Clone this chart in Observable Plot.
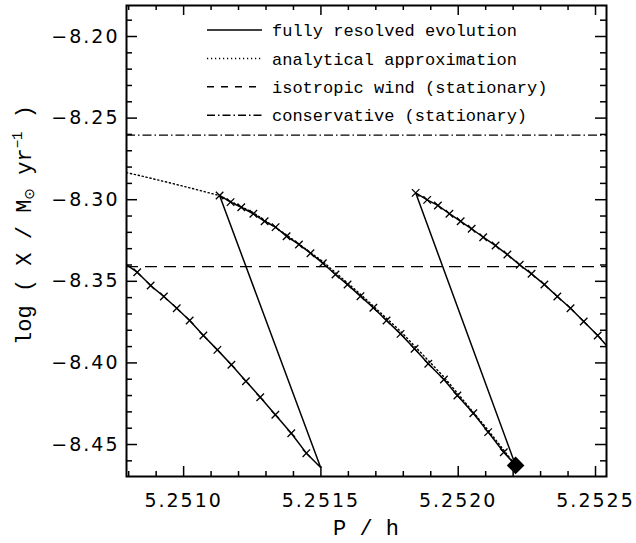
<!DOCTYPE html>
<html><head><meta charset="utf-8">
<script src="https://cdn.jsdelivr.net/npm/d3@7"></script>
<script src="https://cdn.jsdelivr.net/npm/@observablehq/plot@0.6"></script>
<style>
body{margin:0;background:#fff}
g[aria-label="x-axis tick label"] text, g[aria-label="y-axis tick label"] text{letter-spacing:2px}
</style>
</head><body><div id="chart"></div>
<script>
// fully resolved evolution, three consecutive segments (P / h, log X)
const seg1Period = [5.250795, 5.250831, 5.250880, 5.250928, 5.250975, 5.251022, 5.251072, 5.251123, 5.251174, 5.251227, 5.251279, 5.251334, 5.251392, 5.251447, 5.251499];
const seg1LogX   = [-8.3403, -8.3444, -8.3526, -8.3593, -8.3665, -8.3740, -8.3832, -8.3920, -8.4011, -8.4112, -8.4210, -8.4318, -8.4431, -8.4553, -8.4641];
const seg2Period = [5.251131, 5.251171, 5.251210, 5.251254, 5.251295, 5.251335, 5.251375, 5.251420, 5.251462, 5.251507, 5.251553, 5.251597, 5.251644, 5.251691, 5.251739, 5.251790, 5.251841, 5.251891, 5.251948, 5.251997, 5.252055, 5.252109, 5.252166, 5.252209];
const seg2LogX   = [-8.2974, -8.3015, -8.3046, -8.3086, -8.3132, -8.3168, -8.3224, -8.3274, -8.3328, -8.3389, -8.3458, -8.3520, -8.3591, -8.3662, -8.3740, -8.3822, -8.3913, -8.4005, -8.4102, -8.4200, -8.4308, -8.4424, -8.4547, -8.4628];
const seg3Period = [5.251845, 5.251887, 5.251926, 5.251968, 5.252009, 5.252049, 5.252091, 5.252136, 5.252179, 5.252224, 5.252267, 5.252314, 5.252361, 5.252409, 5.252457, 5.252508, 5.252540];
const seg3LogX   = [-8.2958, -8.3001, -8.3035, -8.3086, -8.3132, -8.3178, -8.3230, -8.3281, -8.3336, -8.3399, -8.3454, -8.3520, -8.3593, -8.3665, -8.3746, -8.3832, -8.3893];
// analytical approximation
const anaPeriod = [5.250792, 5.250855, 5.250941, 5.251036, 5.251129, 5.251254, 5.251375, 5.251507, 5.251644, 5.251790, 5.251948, 5.252109, 5.252209];
const anaLogX   = [-8.2834, -8.2858, -8.2893, -8.2933, -8.2974, -8.3080, -8.3216, -8.3379, -8.3579, -8.3806, -8.4086, -8.4412, -8.4628];
// end point (diamond)
const endPeriod = [5.252209];
const endLogX = [-8.4628];
// stationary solutions
const isotropicLogX = [-8.341];
const conservativeLogX = [-8.2604];
// ticks
const xMajor = [5.2510, 5.2515, 5.2520, 5.2525];
const xMinor = [5.2508, 5.2509, 5.2511, 5.2512, 5.2513, 5.2514, 5.2516, 5.2517, 5.2518, 5.2519, 5.2521, 5.2522, 5.2523, 5.2524];
const yMajor = [-8.45, -8.40, -8.35, -8.30, -8.25, -8.20];
const yMinor = [-8.46, -8.44, -8.43, -8.42, -8.41, -8.39, -8.38, -8.37, -8.36, -8.34, -8.33, -8.32, -8.31, -8.29, -8.28, -8.27, -8.26, -8.24, -8.23, -8.22, -8.21, -8.19];
const legendLabels = ["fully resolved evolution", "analytical approximation", "isotropic wind (stationary)", "conservative (stationary)"];
const legendDashes = [null, "1.2,2.8", "7,7", "8,3,1.5,3"];

const toPts = (p, l) => p.map((v, i) => ({P: v, L: l[i]}));
const s1 = toPts(seg1Period, seg1LogX), s2 = toPts(seg2Period, seg2LogX), s3 = toPts(seg3Period, seg3LogX);
const evo = [...s1, ...s2, ...s3];
const marked = [...s1.slice(1, -1), ...s2.slice(0, -1), ...s3.slice(0, -1)];
const ana = toPts(anaPeriod, anaLogX);
const endPt = toPts(endPeriod, endLogX);

const W = 636, H = 543, mL = 126, mR = 30, mT = 5, mB = 67;
const plotW = W - mL - mR, plotH = H - mT - mB;
// inward tick marks: frame-spanning rules inset so that only a short piece remains
const ticksX = (vals, side, len) => Plot.ruleX(vals, side === "bottom"
  ? {x: d => d, insetTop: plotH - len, stroke: "black", strokeWidth: 1.5}
  : {x: d => d, insetBottom: plotH - len, stroke: "black", strokeWidth: 1.5});
const ticksY = (vals, side, len) => Plot.ruleY(vals, side === "left"
  ? {y: d => d, insetRight: plotW - len, stroke: "black", strokeWidth: 1.5}
  : {y: d => d, insetLeft: plotW - len, stroke: "black", strokeWidth: 1.5});

const chart = Plot.plot({
  width: W, height: H,
  marginLeft: mL, marginRight: mR, marginTop: mT, marginBottom: mB,
  x: {domain: [5.250792, 5.252540]},
  y: {domain: [-8.4696, -8.1810]},
  style: {fontFamily: "DejaVu Sans", fontSize: "19px", color: "black", background: "white"},
  marks: [
    Plot.ruleY(conservativeLogX, {stroke: "black", strokeWidth: 1.3, strokeDasharray: "9,3,1.5,3"}),
    Plot.ruleY(isotropicLogX, {stroke: "black", strokeWidth: 1.3, strokeDasharray: "12,7"}),
    Plot.line(ana, {x: "P", y: "L", stroke: "black", strokeWidth: 1.4, strokeDasharray: "1.2,2.8", clip: true}),
    Plot.line(evo, {x: "P", y: "L", stroke: "black", strokeWidth: 1.5, clip: true}),
    Plot.dot(marked, {x: "P", y: "L", symbol: "times", r: 3.5, stroke: "black", strokeWidth: 1.3}),
    Plot.dot(endPt, {x: "P", y: "L", symbol: "diamond2", r: 7, fill: "black", stroke: "black"}),
    ticksX(xMinor, "bottom", 5),
    ticksX(xMajor, "bottom", 10),
    ticksX(xMinor, "top", 5),
    ticksX(xMajor, "top", 10),
    ticksY(yMinor, "left", 6),
    ticksY(yMajor, "left", 11),
    ticksY(yMinor, "right", 6),
    ticksY(yMajor, "right", 11),
    Plot.frame({stroke: "black", strokeWidth: 2}),
    Plot.axisX(xMajor, {anchor: "bottom", tickSize: 0, tickPadding: 17, tickFormat: d3.format(".4f"), label: null}),
    Plot.axisY(yMajor, {anchor: "left", tickSize: 0, tickPadding: 7, tickFormat: d3.format(".2f"), label: null})
  ]
});
document.getElementById("chart").appendChild(chart);

const svg = d3.select(chart);
const leg = svg.append("g").attr("font-family", "Liberation Mono, monospace").attr("font-size", 17)
  .attr("fill", "black").attr("text-anchor", "start");
legendLabels.forEach((lab, i) => {
  const y = 30 + i * 28.4;
  const ln = leg.append("line").attr("x1", 207).attr("x2", 262).attr("y1", y).attr("y2", y)
    .attr("stroke", "black").attr("stroke-width", 1.5);
  if (legendDashes[i]) ln.attr("stroke-dasharray", legendDashes[i]);
  leg.append("text").attr("x", 272).attr("y", y).attr("dy", "0.36em").attr("text-anchor", "start").text(lab);
});

svg.append("text").attr("x", 366).attr("y", 535).attr("text-anchor", "middle")
  .attr("font-family", "Liberation Mono, monospace").attr("font-size", 22).attr("fill", "black").text("P / h");

const yt = svg.append("text").attr("transform", "translate(31,225) rotate(-90)").attr("text-anchor", "middle")
  .attr("font-family", "Liberation Mono, monospace").attr("font-size", 22).attr("fill", "black");
yt.append("tspan").text("log ( X / M");
yt.append("tspan").attr("font-size", 14).attr("dy", 3).attr("font-family", "DejaVu Sans").text("⊙");
yt.append("tspan").attr("dy", -3).text(" yr");
yt.append("tspan").attr("font-size", 14).attr("dy", -9).text("−1");
yt.append("tspan").attr("dy", 9).text(" )");
</script>
</body></html>
